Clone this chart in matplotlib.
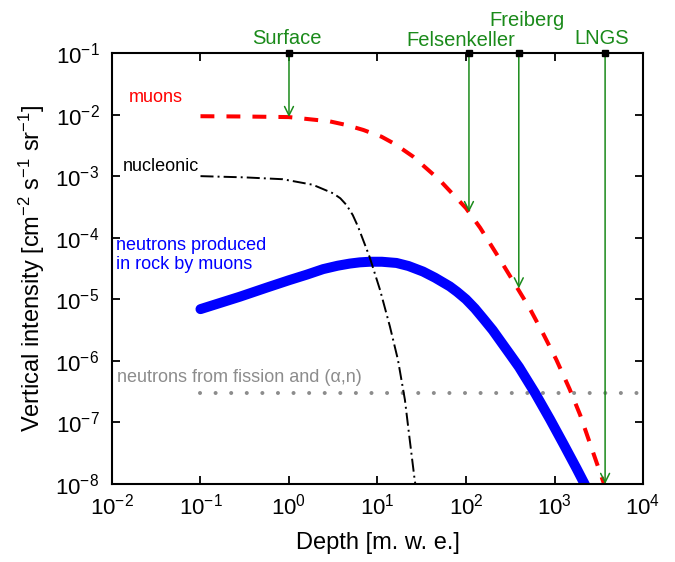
import matplotlib
matplotlib.use('Agg')
import matplotlib.pyplot as plt

plt.rcParams['font.family'] = ['Liberation Sans', 'DejaVu Sans']
plt.rcParams['mathtext.fontset'] = 'custom'
plt.rcParams['mathtext.rm'] = 'Liberation Sans'
plt.rcParams['mathtext.it'] = 'Liberation Sans:italic'
plt.rcParams['mathtext.default'] = 'regular'
plt.rcParams['axes.unicode_minus'] = False

# muons (depth in m.w.e., intensity)
muon_depth = [0.1, 0.316, 1, 2.88, 4.47, 6.92, 11.1, 15.8, 25.1, 50.1, 100, 144.5,
              218.8, 338.8, 524.8, 741, 1047, 1479, 1950, 2630, 3630]
muon_flux = [9.4e-3, 9.3e-3, 9.1e-3, 7.76e-3, 6.76e-3, 5.62e-3, 4.37e-3, 3.31e-3,
             2.09e-3, 8.7e-4, 3.02e-4, 1.45e-4, 5.6e-5, 2.0e-5, 7.1e-6, 2.8e-6,
             1.05e-6, 3.5e-7, 1.32e-7, 3.8e-8, 1.0e-8]

# nucleonic component
nucl_depth = [0.1, 0.316, 0.851, 1.86, 3.16, 3.80, 4.47, 5.25, 6.03, 8.13, 10.7,
              13.8, 17.0, 20.4, 22.9, 26.3, 27.5]
nucl_flux = [1.0e-3, 9.55e-4, 8.91e-4, 7.24e-4, 5.25e-4, 4.37e-4, 3.39e-4,
             2.34e-4, 1.51e-4, 4.9e-5, 1.41e-5, 3.63e-6, 1.05e-6, 2.34e-7,
             5.89e-8, 1.17e-8, 7.9e-9]

# neutrons produced in rock by muons
neut_depth = [0.1, 0.278, 0.562, 1.0, 1.585, 2.43, 3.55, 4.86, 6.31, 8.18, 11.2,
              16.4, 22.4, 32.7, 44.7, 65.6, 79.4, 100, 126, 158, 200, 251, 316,
              398, 603, 891, 1259, 1778, 2188, 2399]
neut_flux = [6.92e-6, 1.10e-5, 1.55e-5, 2.04e-5, 2.51e-5, 3.09e-5, 3.51e-5,
             3.80e-5, 3.98e-5, 4.07e-5, 4.07e-5, 3.89e-5, 3.47e-5, 2.82e-5,
             2.24e-5, 1.62e-5, 1.32e-5, 1.0e-5, 7.08e-6, 4.79e-6, 3.16e-6,
             2.0e-6, 1.26e-6, 7.9e-7, 3.0e-7, 1.12e-7, 4.5e-8, 1.78e-8, 1.0e-8,
             7.6e-9]

# neutrons from fission and (alpha,n)
fission_depth = [0.1, 1e4]
fission_flux = [3e-7, 3e-7]

# underground sites
sites = ['Surface', 'Felsenkeller', 'Freiberg', 'LNGS']
site_depth = [1, 108, 395, 3730]
site_flux = [9.1e-3, 2.6e-4, 1.5e-5, 1.0e-8]
site_offset = [(-1.4, 6.3), (-5.8, 5.3), (5.8, 19.7), (-2.2, 6.3)]

green = '#1a8a1a'

fig = plt.figure(figsize=(6.75, 5.62), dpi=100)
ax = fig.add_axes([0.1659, 0.1388, 0.7867, 0.7669])

ax.plot(fission_depth, fission_flux, color='#8c8c8c', lw=2.9,
        linestyle=(0, (0.01, 3.86)), dash_capstyle='round')
ax.plot(neut_depth, neut_flux, color='#0000ff', lw=7.2, solid_capstyle='round',
        solid_joinstyle='round')
ax.plot(nucl_depth, nucl_flux, color='black', lw=1.4,
        linestyle=(0, (6.7, 2.1, 1, 2.1)))
ax.plot(muon_depth, muon_flux, color='#ff0000', lw=2.9,
        linestyle=(0, (3.45, 3.0)))

for name, d, f, off in zip(sites, site_depth, site_flux, site_offset):
    ax.annotate('', xy=(d, f), xytext=(d, 0.1),
                arrowprops=dict(arrowstyle='->', color=green, lw=1.1,
                                shrinkA=0, shrinkB=0, mutation_scale=16))
    ax.plot([d], [0.1], marker='s', ms=5, color='black', clip_on=False, zorder=5)
    ax.annotate(name, xy=(d, 0.1), xytext=off, textcoords='offset points',
                ha='center', va='baseline', color=green, fontsize=14.5,
                annotation_clip=False)

ax.text(0.0155, 0.0162, 'muons', color='#ff0000', fontsize=13, va='baseline')
ax.text(0.0132, 1.23e-3, 'nucleonic', color='black', fontsize=13, va='baseline')
ax.text(0.011, 3.1e-5, 'neutrons produced\nin rock by muons', color='#0000ff',
        fontsize=13, va='baseline', linespacing=1.15)
ax.text(0.01135, 4.5e-7, 'neutrons from fission and (α,n)', color='#8c8c8c',
        fontsize=13, va='baseline')

ax.set_xscale('log')
ax.set_yscale('log')
ax.set_xlim(1e-2, 1e4)
ax.set_ylim(1e-8, 1e-1)
ax.minorticks_off()
ax.tick_params(which='major', direction='in', top=True, right=True,
               length=6, width=1.3, labelsize=16)
ax.tick_params(axis='y', pad=9)
ax.tick_params(axis='x', pad=7)
for s in ax.spines.values():
    s.set_linewidth(1.5)

ax.set_xlabel('Depth [m. w. e.]', fontsize=17, labelpad=9)
ax.set_ylabel('Vertical intensity [cm$^{-2}$ s$^{-1}$ sr$^{-1}$]', fontsize=17,
              labelpad=6)

fig.savefig('out.png', dpi=100)
